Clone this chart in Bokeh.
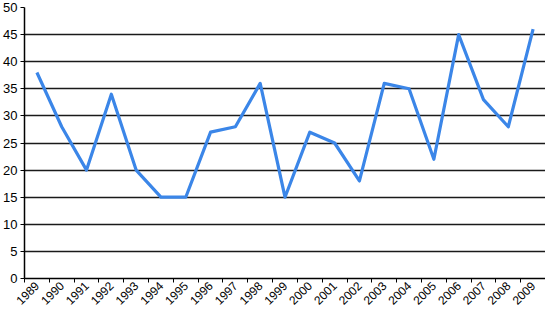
from bokeh.plotting import figure
from bokeh.models import FixedTicker, Range1d, ColumnDataSource
from bokeh.embed import file_html
from bokeh.resources import INLINE
import math

years = ["1989", "1990", "1991", "1992", "1993", "1994", "1995", "1996", "1997", "1998",
         "1999", "2000", "2001", "2002", "2003", "2004", "2005", "2006", "2007", "2008", "2009"]
values = [38, 28, 20, 34, 20, 15, 15, 27, 28, 36, 15, 27, 25, 18, 36, 35, 22, 45, 33, 28, 46]
y_ticks = [0, 5, 10, 15, 20, 25, 30, 35, 40, 45, 50]

n = len(years)
centers = [i + 0.5 for i in range(n)]
bounds = list(range(n + 1))

src = ColumnDataSource(dict(x=centers, y=values))

p = figure(width=545, height=311, output_backend="svg", toolbar_location=None,
           x_range=Range1d(0, n), y_range=Range1d(0, 50),
           min_border_left=0, min_border_right=0, min_border_top=7, min_border_bottom=30)
p.outline_line_color = None
p.background_fill_color = "white"
p.border_fill_color = "white"

p.line("x", "y", source=src, line_color="#3b86e8", line_width=3.2, line_join="round")

font = "Liberation Sans"
xa = p.xaxis[0]
xa.ticker = FixedTicker(ticks=centers, minor_ticks=bounds)
xa.major_label_overrides = {c: y for c, y in zip(centers, years)}
xa.major_tick_in = 0
xa.major_tick_out = 0
xa.minor_tick_in = 0
xa.minor_tick_out = 4
xa.minor_tick_line_color = "black"
xa.axis_line_color = "black"
xa.axis_line_width = 1.5
xa.major_label_orientation = math.pi / 4
xa.major_label_text_font = font
xa.major_label_text_font_size = "12px"
xa.major_label_text_color = "black"
xa.major_label_standoff = 1

ya = p.yaxis[0]
ya.ticker = FixedTicker(ticks=y_ticks)
ya.minor_tick_line_color = None
ya.major_tick_in = 0
ya.major_tick_out = 4
ya.major_tick_line_color = "black"
ya.axis_line_color = "black"
ya.axis_line_width = 1.5
ya.major_label_text_font = font
ya.major_label_text_font_size = "13px"
ya.major_label_text_color = "black"
ya.major_label_standoff = 3

p.xgrid.grid_line_color = None
p.ygrid.grid_line_color = "#1a1a1a"
p.ygrid.grid_line_width = 1.4

open("out.html", "w").write(file_html(p, INLINE))
